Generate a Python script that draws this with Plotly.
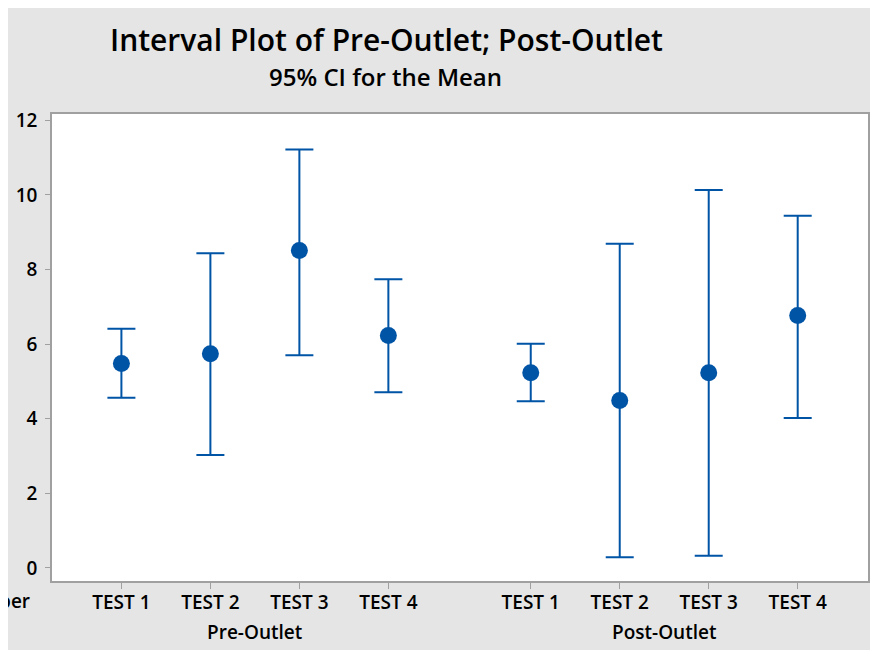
import plotly.graph_objects as go

# ---- data ----
groups = ["Pre-Outlet", "Post-Outlet"]
tests = ["TEST 1", "TEST 2", "TEST 3", "TEST 4"]
pre_mean = [5.48, 5.74, 8.51, 6.23]
pre_lower = [4.56, 3.03, 5.70, 4.71]
pre_upper = [6.41, 8.44, 11.22, 7.74]
post_mean = [5.23, 4.49, 5.23, 6.77]
post_lower = [4.47, 0.29, 0.33, 4.02]
post_upper = [6.01, 8.69, 10.13, 9.44]
yticks = [0, 2, 4, 6, 8, 10, 12]

BLUE = "#0054a6"
GRAY_BG = "#e5e5e5"
FONT = "Open Sans"

OFF = 8  # browser body margin
W, H = 878 - OFF, 650 - OFF
L, R, T, B = 51 - OFF, 878 - 870, 114 - OFF, 650 - 581
GAP = 0.6  # extra space between groups

means = pre_mean + post_mean
lowers = pre_lower + post_lower
uppers = pre_upper + post_upper
xpos = []
xtext = []
for gi, g in enumerate(groups):
    for ti, t in enumerate(tests):
        xpos.append(1 + gi * (len(tests) + GAP) + ti)
        xtext.append(t)

fig = go.Figure()
fig.add_trace(go.Scatter(
    x=xpos, y=means, mode="markers",
    marker=dict(color=BLUE, size=17, symbol="circle"),
    error_y=dict(type="data", symmetric=False,
                 array=[u - m for u, m in zip(uppers, means)],
                 arrayminus=[m - l for m, l in zip(means, lowers)],
                 color=BLUE, thickness=2, width=14),
    showlegend=False, hoverinfo="skip",
))

pw = W - L - R
ph = H - T - B


def xp(page_px):
    return (page_px - OFF - L) / pw


def yp(page_py):
    return 1 - (page_py - OFF - T) / ph


annotations = [
    dict(text="Interval Plot of Pre-Outlet; Post-Outlet", xref="paper", yref="paper",
         x=xp(387), y=yp(40), xanchor="center", yanchor="middle",
         showarrow=False, font=dict(family=FONT, size=30, color="black", weight=600)),
    dict(text="95% CI for the Mean", xref="paper", yref="paper",
         x=xp(386), y=yp(76), xanchor="center", yanchor="middle",
         showarrow=False, font=dict(family=FONT, size=24, color="black", weight=600)),
    dict(text="Number", xref="paper", yref="paper",
         x=xp(31), y=yp(601), xanchor="right", yanchor="middle",
         showarrow=False, font=dict(family=FONT, size=19, color="black", weight=600)),
]
for gi, g in enumerate(groups):
    xs = xpos[gi * len(tests):(gi + 1) * len(tests)]
    annotations.append(dict(
        text=g, xref="x", yref="paper", x=(xs[0] + xs[-1]) / 2,
        y=yp(632), xanchor="center", yanchor="middle", showarrow=False,
        font=dict(family=FONT, size=19, color="black", weight=600)))

fig.update_layout(
    width=W, height=H,
    margin=dict(l=L, r=R, t=T, b=B, pad=0),
    paper_bgcolor=GRAY_BG, plot_bgcolor="white",
    font=dict(family=FONT, size=19, color="black"),
    annotations=annotations,
    xaxis=dict(range=[0.22, 9.39], tickvals=xpos, ticktext=xtext,
               showgrid=False, zeroline=False, showline=True, mirror=True,
               linecolor="#a0a0a0", linewidth=1.5, ticks="outside", ticklen=6,
               tickcolor="#a0a0a0", tickfont=dict(family=FONT, size=19, weight=600),
               ticklabelstandoff=-3),
    yaxis=dict(range=[-0.35, 12.17], tickvals=yticks,
               showgrid=False, zeroline=False, showline=True, mirror=True,
               linecolor="#a0a0a0", linewidth=1.5, ticks="outside", ticklen=5,
               tickcolor="#a0a0a0", tickfont=dict(family=FONT, size=19, weight=600),
               ticklabelstandoff=4),
)

fig.write_html("out.html")
